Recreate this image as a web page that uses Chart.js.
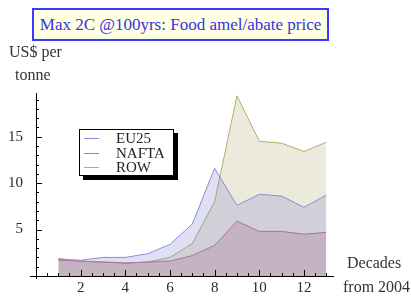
<!DOCTYPE html>
<html>
<head>
<meta charset="utf-8">
<script src="https://cdn.jsdelivr.net/npm/chart.js@4.4.0/dist/chart.umd.min.js"></script>
<style>
    body { margin:0; background:#fff; }
    #wrap { position:relative; width:411px; height:296px; font-family:"Liberation Serif", serif; color:#333; }
    #wrap canvas { position:absolute; left:0; top:0; }
    .lbl { position:absolute; white-space:nowrap; font-size:16px; line-height:16px; }
    #title { position:absolute; left:32px; top:8px; width:293px; height:29px; border:2px solid #3a3aff;
             background:#ffffe2; color:#3434e8; font-size:17px; line-height:29px; text-align:center; white-space:nowrap; }
    #legend { position:absolute; left:79px; top:129px; width:93px; height:45px; border:1px solid #000;
              background:#fff; box-shadow:4px 4px 0 #000; }
    #legend div { position:absolute; left:36px; font-size:15px; line-height:15px; color:#222; }
    #legend span { position:absolute; left:-32px; top:7px; width:15px; height:1px; }
</style>
</head>
<body>
<div id="wrap">
    <canvas id="chart" width="411" height="296"></canvas>
    <div id="title">Max 2C @100yrs: Food amel/abate price</div>
    <div class="lbl" style="left:9px;top:44px;">US$ per</div>
    <div class="lbl" style="left:15px;top:67px;">tonne</div>
    <div class="lbl" style="left:347px;top:255px;">Decades</div>
    <div class="lbl" style="left:343px;top:279px;">from 2004</div>
    <div id="legend"></div>
</div>
<script>
// decades from 2004
const decades = [1, 2, 3, 4, 5, 6, 7, 8, 9, 10, 11, 12, 13];
// US$ per tonne
const eu25  = [1.8, 1.7, 2.0, 2.0, 2.4, 3.4, 5.6, 11.6, 7.6, 8.8, 8.6, 7.4, 8.7];
const nafta = [1.7, 1.6, 1.5, 1.4, 1.5, 1.6, 2.2, 3.3, 5.9, 4.8, 4.8, 4.5, 4.7];
const row   = [1.9, 1.6, 1.5, 1.4, 1.5, 2.0, 3.5, 8.0, 19.4, 14.5, 14.3, 13.4, 14.4];
const xTicks = [2, 4, 6, 8, 10, 12];
const yTicks = [5, 10, 15];

const seriesNames = ['EU25', 'NAFTA', 'ROW'];
const lineColors = ['rgb(140,140,215)', 'rgb(205,110,145)', 'rgb(180,172,110)'];
const fillColors = ['rgba(100,100,205,0.2)', 'rgba(150,50,70,0.2)', 'rgba(160,150,80,0.2)'];

function pts(vals) {
    return decades.map((d, i) => ({x: d, y: vals[i]}));
}

// legend
let legendHtml = '';
seriesNames.forEach((n, i) => {
    legendHtml += '<div style="top:' + (1 + i * 14.5) + 'px">' + n +
        '<span style="background:' + lineColors[i] + '"></span></div>';
});
document.getElementById('legend').innerHTML = legendHtml;

// tick marks drawn inward like the original
const innerTicks = {
    id: 'innerTicks',
    afterDraw(chart) {
        const ctx = chart.ctx;
        const xs = chart.scales.x, ys = chart.scales.y;
        const x0 = xs.getPixelForValue(0), y0 = ys.getPixelForValue(0);
        ctx.save();
        ctx.strokeStyle = '#000';
        ctx.lineWidth = 1;
        ctx.beginPath();
        // axis stubs
        ctx.moveTo(x0 - 6, y0 + 0.5); ctx.lineTo(x0, y0 + 0.5);
        ctx.moveTo(x0 + 0.5, y0); ctx.lineTo(x0 + 0.5, y0 + 3);
        for (let v = 0.5; v <= 13.01; v += 0.5) {
            const px = Math.round(xs.getPixelForValue(v)) + 0.5;
            const len = (v % 2 === 0) ? 6 : 3;
            ctx.moveTo(px, y0); ctx.lineTo(px, y0 - len);
        }
        for (let v = 1; v <= 19; v++) {
            const py = Math.round(ys.getPixelForValue(v)) + 0.5;
            const len = (v % 5 === 0) ? 6 : 3;
            ctx.moveTo(x0, py); ctx.lineTo(x0 + len, py);
        }
        ctx.stroke();
        ctx.restore();
    }
};

new Chart(document.getElementById('chart'), {
    type: 'line',
    data: {
        datasets: seriesNames.map((n, i) => ({
            label: n,
            data: pts([eu25, nafta, row][i]),
            borderColor: lineColors[i],
            backgroundColor: fillColors[i],
            borderWidth: 1,
            fill: 'origin',
            pointRadius: 0,
            tension: 0
        }))
    },
    options: {
        responsive: false,
        animation: false,
        layout: { padding: { top: 93, right: 78, left: 0, bottom: 0 } },
        plugins: { legend: { display: false }, tooltip: { enabled: false } },
        scales: {
            x: {
                type: 'linear', min: 0, max: 13.3,
                afterBuildTicks: s => { s.ticks = xTicks.map(v => ({value: v})); },
                afterFit: s => { s.height = 20; },
                grid: { display: false, tickLength: 0 },
                border: { color: '#000', width: 1 },
                ticks: { padding: 3, color: '#2a2a2a', font: { family: 'Liberation Serif', size: 15 } }
            },
            y: {
                type: 'linear', min: 0, max: 19.7,
                afterBuildTicks: s => { s.ticks = yTicks.map(v => ({value: v})); },
                afterFit: s => { s.width = 36; },
                grid: { display: false },
                border: { color: '#000', width: 1 },
                ticks: { padding: 5, color: '#2a2a2a', font: { family: 'Liberation Serif', size: 15 } }
            }
        }
    },
    plugins: [innerTicks]
});
</script>
</body>
</html>
